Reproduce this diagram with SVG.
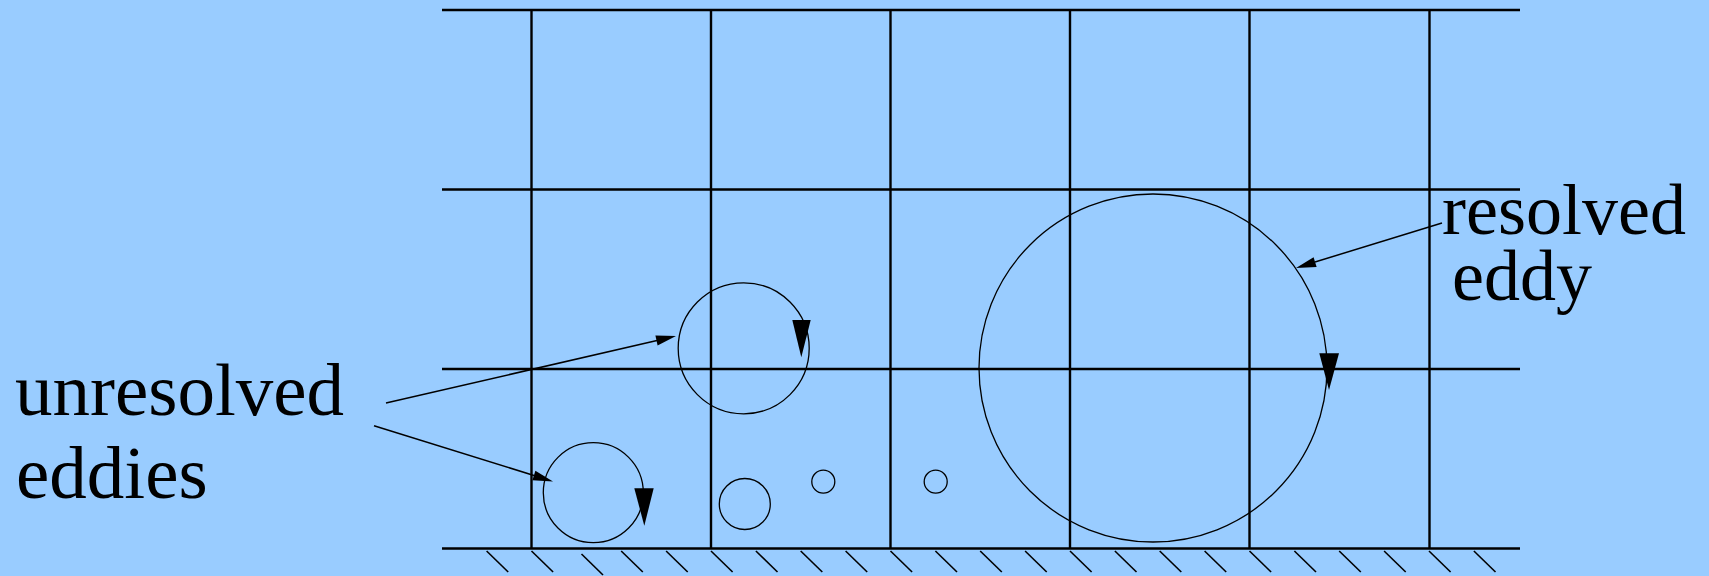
<svg xmlns="http://www.w3.org/2000/svg" width="1709" height="576" viewBox="0 0 1709 576">
<style>
.grid{stroke:#000;stroke-width:2.4;fill:none}
.hatch{stroke:#000;stroke-width:1.6;fill:none}
.eddy{stroke:#000;stroke-width:1.3;fill:none}
.lead{stroke:#000;stroke-width:1.5;fill:none}
.head{fill:#000;stroke:none}
.lbl{font-family:"Liberation Serif","Times New Roman",serif;fill:#000}
</style>
<rect x="0" y="0" width="1709" height="576" fill="#99ccff"/>
<g id="grid">
<line class="grid" x1="442" y1="10" x2="1520" y2="10"/>
<line class="grid" x1="442" y1="189.5" x2="1520" y2="189.5"/>
<line class="grid" x1="442" y1="369" x2="1520" y2="369"/>
<line class="grid" x1="442" y1="548.5" x2="1520" y2="548.5"/>
<line class="grid" x1="531.5" y1="10" x2="531.5" y2="548.5"/>
<line class="grid" x1="711" y1="10" x2="711" y2="548.5"/>
<line class="grid" x1="890.5" y1="10" x2="890.5" y2="548.5"/>
<line class="grid" x1="1070" y1="10" x2="1070" y2="548.5"/>
<line class="grid" x1="1249.5" y1="10" x2="1249.5" y2="548.5"/>
<line class="grid" x1="1429.5" y1="10" x2="1429.5" y2="548.5"/>
</g>
<g id="wall">
<line class="hatch" x1="486.6" y1="551" x2="508.2" y2="572"/>
<line class="hatch" x1="531.5" y1="551" x2="553.1" y2="572"/>
<line class="hatch" x1="581.5" y1="554" x2="603" y2="575"/>
<line class="hatch" x1="621.2" y1="551" x2="642.8" y2="572"/>
<line class="hatch" x1="666.1" y1="551" x2="687.7" y2="572"/>
<line class="hatch" x1="711" y1="551" x2="732.6" y2="572"/>
<line class="hatch" x1="755.9" y1="551" x2="777.5" y2="572"/>
<line class="hatch" x1="800.7" y1="551" x2="822.3" y2="572"/>
<line class="hatch" x1="845.6" y1="551" x2="867.2" y2="572"/>
<line class="hatch" x1="890.5" y1="551" x2="912.1" y2="572"/>
<line class="hatch" x1="935.4" y1="551" x2="957" y2="572"/>
<line class="hatch" x1="980.2" y1="551" x2="1001.8" y2="572"/>
<line class="hatch" x1="1025.1" y1="551" x2="1046.7" y2="572"/>
<line class="hatch" x1="1070" y1="551" x2="1091.6" y2="572"/>
<line class="hatch" x1="1114.9" y1="551" x2="1136.5" y2="572"/>
<line class="hatch" x1="1159.7" y1="551" x2="1181.3" y2="572"/>
<line class="hatch" x1="1204.6" y1="551" x2="1226.2" y2="572"/>
<line class="hatch" x1="1249.5" y1="551" x2="1271.1" y2="572"/>
<line class="hatch" x1="1294.4" y1="551" x2="1316" y2="572"/>
<line class="hatch" x1="1339.2" y1="551" x2="1360.8" y2="572"/>
<line class="hatch" x1="1384.1" y1="551" x2="1405.7" y2="572"/>
<line class="hatch" x1="1429" y1="551" x2="1450.6" y2="572"/>
<line class="hatch" x1="1473.9" y1="551" x2="1495.5" y2="572"/>
</g>
<g id="eddy-resolved">
<circle class="eddy" cx="1153" cy="368" r="174"/>
<polygon class="head" points="1319.3,353.3 1339,353.3 1329,390"/>
</g>
<g id="eddy-upper">
<circle class="eddy" cx="743.7" cy="348.3" r="65.5"/>
<polygon class="head" points="792.3,320 810.7,320 801.3,357.3"/>
</g>
<g id="eddy-lower">
<circle class="eddy" cx="593.3" cy="492.7" r="50"/>
<polygon class="head" points="634.3,488.3 653.7,488.3 644.3,525.7"/>
</g>
<g id="eddy-small">
<circle class="eddy" cx="744.8" cy="504" r="25.5"/>
</g>
<g id="eddy-tiny-1">
<circle class="eddy" cx="823.3" cy="481.7" r="11.5"/>
</g>
<g id="eddy-tiny-2">
<circle class="eddy" cx="935.7" cy="481.7" r="11.5"/>
</g>
<g id="label-unresolved">
<text class="lbl" x="15" y="415" font-size="75">unresolved</text>
<text class="lbl" x="16" y="498" font-size="75">eddies</text>
</g>
<g id="label-resolved">
<text class="lbl" x="1442" y="234" font-size="72">resolved</text>
<text class="lbl" x="1452" y="300" font-size="72">eddy</text>
</g>
<g id="connectors">
<line class="lead" x1="386" y1="403" x2="657" y2="340.5"/>
<polygon class="head" points="676,336 657.6,345.4 655.4,335.6"/>
<line class="lead" x1="374" y1="425.7" x2="534" y2="475.5"/>
<polygon class="head" points="553,481.5 532.4,480.3 535.4,470.8"/>
<line class="lead" x1="1442" y1="223" x2="1315" y2="262"/>
<polygon class="head" points="1296,268 1316.6,266.9 1313.6,257.3"/>
</g>
</svg>
